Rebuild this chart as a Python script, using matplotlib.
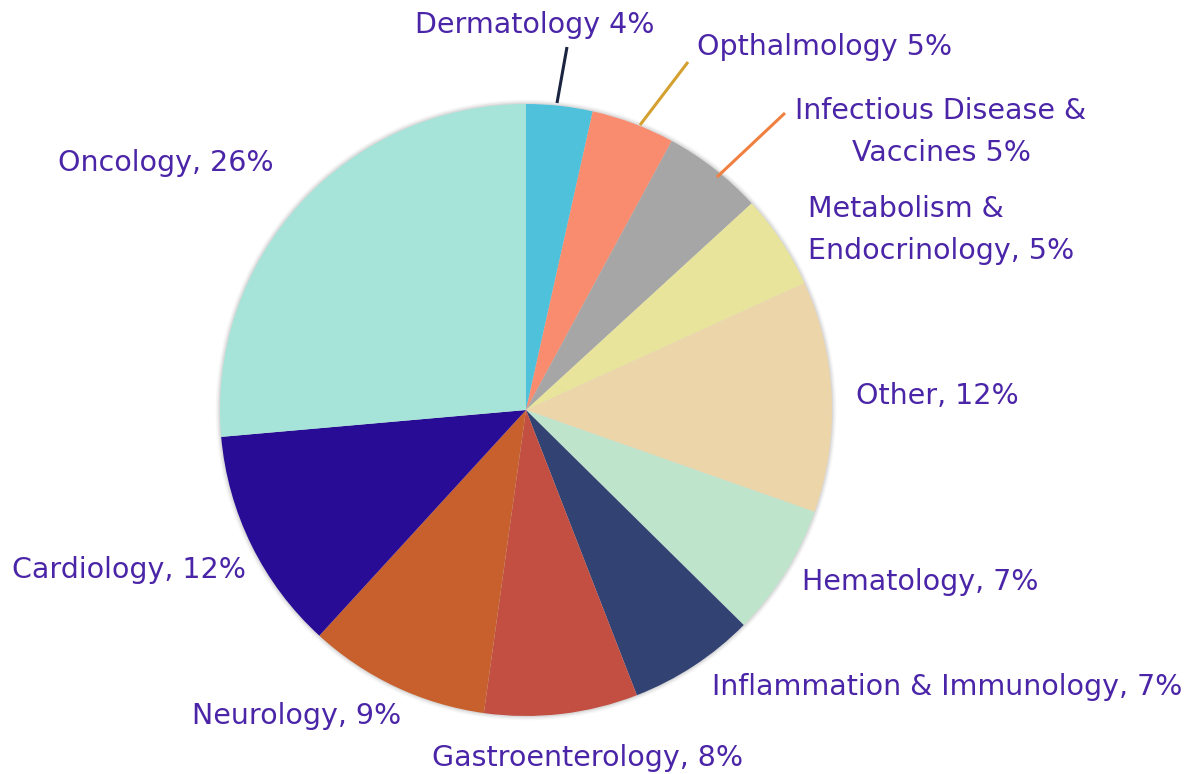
import matplotlib
matplotlib.use("Agg")
import matplotlib.pyplot as plt
from matplotlib.patches import Circle

categories = ["Dermatology", "Opthalmology", "Infectious Disease & Vaccines",
              "Metabolism & Endocrinology", "Other", "Hematology",
              "Inflammation & Immunology", "Gastroenterology", "Neurology",
              "Cardiology", "Oncology"]
values = [3.5, 4.4, 5.3, 5.0, 12.2, 7.0, 6.7, 8.1, 9.6, 11.8, 26.4]
labels = ["Dermatology 4%", "Opthalmology 5%", "Infectious Disease &\nVaccines 5%",
          "Metabolism &\nEndocrinology, 5%", "Other, 12%", "Hematology, 7%",
          "Inflammation & Immunology, 7%", "Gastroenterology, 8%", "Neurology, 9%",
          "Cardiology, 12%", "Oncology, 26%"]
colors = ["#4FC1DB", "#F98B6E", "#A6A6A6", "#E8E49C", "#EDD5AA", "#BFE4CC",
          "#324273", "#C24F42", "#C8602E", "#280C96", "#A6E4D9"]

W, H = 1192, 774
fig = plt.figure(figsize=(W / 100, H / 100), dpi=100)
cx, cy, R = 526, 410, 306
ax = fig.add_axes([(cx - R) / W, (H - cy - R) / H, 2 * R / W, 2 * R / H])
ax.axis("off")

wedges, _ = ax.pie(values, colors=colors, startangle=90, counterclock=False,
                   radius=1, wedgeprops=dict(linewidth=0))
for w in wedges:
    w.set_clip_on(False)

# soft shadow ring
for r, a in [(1.014, 0.08), (1.009, 0.14), (1.004, 0.2)]:
    ax.add_patch(Circle((0, 0), r, color="#9a9a9a", alpha=a, lw=0, zorder=0,
                        clip_on=False))

ax.set_xlim(-1, 1)
ax.set_ylim(-1, 1)
ax.set_aspect("equal")

def d(px, py):
    return ((px - cx) / R, (cy - py) / R)

txt = dict(color="#4B25A8", fontsize=20.5, family="DejaVu Sans", va="center")
pos = [
    (535, 25, "center"), (825, 47, "center"), (941, 132, "center"),
    (808, 230, "left"), (856, 396, "left"), (802, 582, "left"),
    (712, 687, "left"), (588, 758, "center"), (192, 716, "left"),
    (12, 570, "left"), (58, 163, "left"),
]
for lab, (px, py, ha) in zip(labels, pos):
    x, y = d(px, py)
    ax.text(x, y, lab, ha=ha, multialignment=ha, linespacing=1.62,
            clip_on=False, **txt)

leaders = [((567, 47), (557, 103), "#1B2440"),
           ((688, 62), (640, 125), "#D4A030"),
           ((785, 113), (717, 177), "#F08040")]
for (p1, p2, c) in leaders:
    a = d(*p1); b = d(*p2)
    ax.plot([a[0], b[0]], [a[1], b[1]], color=c, lw=2.2, clip_on=False,
            solid_capstyle="butt")

fig.savefig("out.png", dpi=100)
